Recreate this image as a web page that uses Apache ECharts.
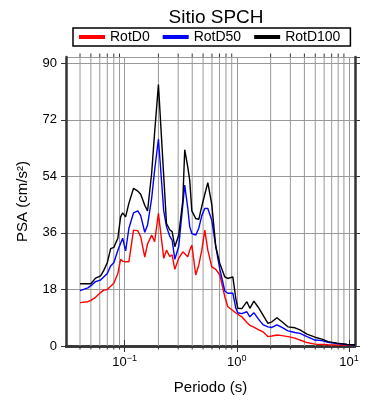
<!DOCTYPE html>
<html><head><meta charset="utf-8">
<script src="https://cdn.jsdelivr.net/npm/echarts@6/dist/echarts.min.js"></script>
<style>html,body{margin:0;padding:0;background:#fff}#c{width:390px;height:400px}</style>
</head><body><div id="c"></div>
<script>
const periods = [0.04,0.047,0.05,0.055,0.061,0.065,0.07,0.075,0.08,0.087,0.092,0.096,0.102,0.109,0.12,0.131,0.139,0.151,0.16,0.174,0.185,0.2,0.223,0.236,0.252,0.265,0.28,0.303,0.33,0.343,0.365,0.38,0.397,0.43,0.458,0.487,0.518,0.551,0.598,0.649,0.705,0.781,0.831,0.921,0.98,1.02,1.108,1.228,1.306,1.418,1.54,1.707,1.892,2.054,2.276,2.523,2.852,3.296,3.652,4.217,4.97,5.74,6.49,7.81,9.59,11.3];
const rotD0   = [13.8,14.1,14.5,15.5,17.0,17.8,18.0,19.0,20.0,23.1,27.6,27.0,26.8,26.8,36.9,36.7,34.8,28.3,32.5,35.3,33.2,42.2,27.9,30.5,28.5,29.0,24.4,27.9,30.0,30.5,28.4,30.5,32.1,22.6,25.8,30.5,36.9,30.5,25.2,24.4,22.6,15.7,12.5,11.3,10.5,10.1,9.3,7.5,6.6,6.0,5.3,4.5,3.0,3.2,3.5,3.3,3.0,2.5,1.9,1.1,0.6,0.5,0.4,0.3,0.3,0.2];
const rotD50  = [17.6,18.5,19.2,20.5,21.0,22.0,23.1,25.5,26.5,30.5,32.7,34.3,30.3,37.4,42.4,43.0,41.5,36.2,38.5,47.0,56.0,65.9,43.0,38.0,35.0,33.7,27.6,31.6,45.0,51.2,44.0,38.0,35.8,35.3,37.5,41.5,43.8,43.8,40.0,31.6,24.5,17.5,16.8,16.8,12.0,10.6,10.3,10.9,9.3,10.6,8.8,6.8,6.1,5.9,6.7,5.9,4.8,4.3,4.0,3.0,1.9,1.7,1.2,0.8,0.5,0.3];
const rotD100 = [19.8,19.8,19.8,21.6,22.3,24.0,26.5,31.0,31.4,34.3,41.1,42.4,41.1,45.4,50.2,49.3,48.3,44.8,43.0,55.0,68.0,83.2,54.0,39.0,37.0,36.4,31.6,35.3,46.4,62.5,57.0,52.8,43.0,40.6,40.3,44.5,48.3,52.0,45.0,31.6,26.3,22.0,21.5,22.0,15.0,12.0,11.9,14.1,12.0,14.3,12.5,9.9,7.2,7.7,9.0,7.7,6.1,5.8,5.1,3.8,2.8,2.2,1.4,0.9,0.5,0.4];
const minorPeriods = [0.04,0.05,0.06,0.07,0.08,0.09,0.2,0.3,0.4,0.5,0.6,0.7,0.8,0.9,2,3,4,5,6,7,8,9];
const seriesNames = ['RotD0','RotD50','RotD100'];

const X_MIN = 0.03, X_MAX = 11.3, Y_MAX = 92;
const FONT = 'Liberation Sans';
const chart = echarts.init(document.getElementById('c'), null, {renderer:'canvas'});
const supFmt = v => {
  const e = Math.round(Math.log10(v));
  return '{b|10}{s|' + (e < 0 ? '\u2212' + (-e) : e) + '}';
};
const axisLine = {show:true, lineStyle:{color:'#333', width:2.5}};
const mk = (name, data, color) => ({
  name, type:'line', data: periods.map((p,i)=>[p, data[i]]),
  symbol:'none', lineStyle:{color, width:1.4}, itemStyle:{color}, z:5, animation:false
});
chart.setOption({
  animation:false,
  title:{text:'Sitio SPCH', left:211, top:3, textAlign:'center',
    textStyle:{fontFamily:FONT, fontSize:19, fontWeight:'normal', color:'#000'}},
  legend:{data:seriesNames, left:73, top:28, orient:'horizontal',
    icon:'rect', itemWidth:26, itemHeight:4, itemGap:13,
    borderColor:'#000', borderWidth:1.5, padding:[2,10,2,6], borderRadius:0,
    textStyle:{fontFamily:FONT, fontSize:14, color:'#000'}},
  grid:{left:66, right:35, top:57, bottom:54},
  xAxis:[
    {type:'log', logBase:10, min:X_MIN, max:X_MAX, position:'bottom',
      name:'Periodo (s)', nameLocation:'middle', nameGap:34,
      nameTextStyle:{fontFamily:FONT, fontSize:15, color:'#000'},
      axisLine, axisTick:{show:true, length:6, inside:false, lineStyle:{color:'#333', width:1}},
      axisLabel:{formatter:supFmt, showMinLabel:false, showMaxLabel:false, margin:8,
        rich:{b:{fontFamily:FONT, fontSize:13, color:'#000'}, s:{fontFamily:FONT, fontSize:9, color:'#000', verticalAlign:'top', padding:[0,0,8,0]}}},
      splitLine:{show:true, lineStyle:{color:'#999', width:1}}},
    {type:'log', logBase:10, min:X_MIN, max:X_MAX, position:'top',
      axisLine, axisTick:{show:true, length:6, lineStyle:{color:'#333', width:1}},
      axisLabel:{show:false}, splitLine:{show:false}}
  ],
  yAxis:[
    {type:'value', min:0, max:Y_MAX, interval:18, position:'left',
      name:'PSA (cm/s\u00b2)', nameLocation:'middle', nameGap:36,
      nameTextStyle:{fontFamily:FONT, fontSize:15, color:'#000'},
      axisLine, axisTick:{show:true, length:5, lineStyle:{color:'#333', width:1}},
      axisLabel:{fontFamily:FONT, fontSize:13, color:'#000', margin:9, showMaxLabel:false},
      splitLine:{show:true, lineStyle:{color:'#999', width:1}}},
    {type:'value', min:0, max:Y_MAX, interval:18, position:'right',
      axisLine, axisTick:{show:true, length:5, lineStyle:{color:'#333', width:1}},
      axisLabel:{show:false}, splitLine:{show:false}}
  ],
  series:[
    {type:'custom', name:'minor', xAxisIndex:0, yAxisIndex:0, z:1, clip:false, silent:true,
      data: minorPeriods.map(p=>[p,0]),
      encode:{x:0, y:1},
      renderItem:(params, api)=>{
        const v = api.value(0);
        const b = api.coord([v, 0]);
        const t = api.coord([v, Y_MAX]);
        return {type:'group', children:[
          {type:'line', shape:{x1:b[0], y1:b[1], x2:t[0], y2:t[1]}, style:{stroke:'#999', lineWidth:1}},
          {type:'line', shape:{x1:b[0], y1:b[1], x2:b[0], y2:b[1]+3.5}, style:{stroke:'#333', lineWidth:1}},
          {type:'line', shape:{x1:t[0], y1:t[1], x2:t[0], y2:t[1]-3.5}, style:{stroke:'#333', lineWidth:1}}
        ]};
      }},
    mk(seriesNames[0], rotD0, '#ff0000'),
    mk(seriesNames[1], rotD50, '#0000ff'),
    mk(seriesNames[2], rotD100, '#000000')
  ]
});
</script></body></html>
